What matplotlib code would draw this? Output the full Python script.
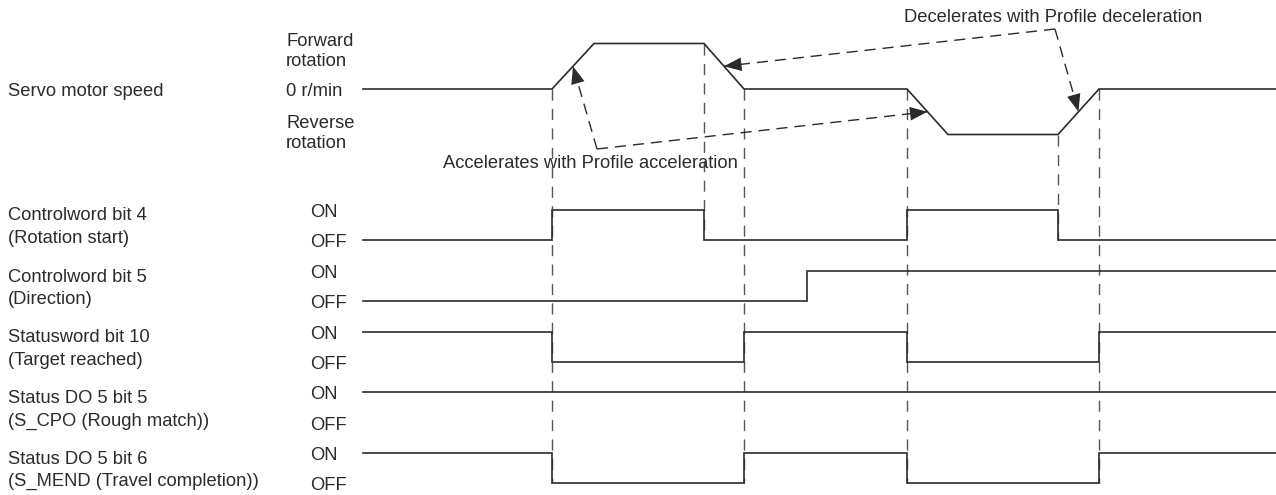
import matplotlib
matplotlib.use("Agg")
import matplotlib.pyplot as plt
from matplotlib.patches import FancyArrowPatch

plt.rcParams['font.family'] = ['Liberation Sans', 'DejaVu Sans']
plt.rcParams['lines.scale_dashes'] = False

# ---------------- data ----------------
# time axis (arbitrary units, drawn left to right)
t_start, t_end = 363, 1276
# servo motor speed profile breakpoints (time, normalized speed)
speed_t = [552, 594, 704, 744, 907, 948, 1058, 1099]
speed_v = [0, 1, 1, 0, 0, -1, -1, 0]

# digital signals: (initial state, toggle times)
signal_names = ["Controlword bit 4", "Controlword bit 5", "Statusword bit 10",
                "Status DO 5 bit 5", "Status DO 5 bit 6"]
signal_sub = ["(Rotation start)", "(Direction)", "(Target reached)",
              "(S_CPO (Rough match))", "(S_MEND (Travel completion))"]
signal_init = [0, 0, 1, 1, 1]
signal_toggles = [[552, 704, 907, 1058],
                  [807],
                  [552, 744, 907, 1099],
                  [],
                  [552, 744, 907, 1099]]

# dashed guide lines at these times
guide_t = [552, 704, 744, 907, 1058, 1099]

speed_label = "Servo motor speed"
speed_levels = ["Forward", "rotation", "0 r/min", "Reverse", "rotation"]
acc_text = "Accelerates with Profile acceleration"
dec_text = "Decelerates with Profile deceleration"

# ---------------- layout ----------------
W, H = 1276, 495
fig = plt.figure(figsize=(W / 100, H / 100), dpi=100)
ax = fig.add_axes([0, 0, 1, 1])
ax.set_xlim(0, W)
ax.set_ylim(H, 0)
ax.axis('off')

LC = '#2b2b2b'
TC = '#2b2b2b'
GC = '#555555'
FS = 13.2
LW = 1.2

speed_zero = 89
speed_amp = 45.5
row_on = [210, 271, 332, 392, 453]
row_off = [240, 301, 362, 423, 483]


def speed_y(v):
    return speed_zero - v * speed_amp


# speed profile
xs = [t_start] + speed_t + [t_end]
ys = [speed_y(0)] + [speed_y(v) for v in speed_v] + [speed_y(0)]
ax.plot(xs, ys, color=LC, lw=LW, solid_joinstyle='miter', zorder=3)

# signals
for i in range(len(signal_names)):
    state = signal_init[i]
    lvl = lambda s: row_on[i] if s else row_off[i]
    px = [t_start]
    py = [lvl(state)]
    for t in signal_toggles[i]:
        px += [t, t]
        py += [lvl(state), lvl(1 - state)]
        state = 1 - state
    px.append(t_end)
    py.append(lvl(state))
    ax.plot(px, py, color=LC, lw=LW, solid_joinstyle='miter', zorder=3)

# dashed guide lines
sv = dict(zip(speed_t, speed_v))
for t in guide_t:
    y0 = speed_y(sv[t])
    # lines at rotation-start fall times stop at Controlword bit 4
    if t in signal_toggles[0] and t not in signal_toggles[2]:
        y1 = row_off[0]
    else:
        y1 = row_off[-1]
    ax.plot([t, t], [y0, y1], color=GC, lw=1.0, dashes=(8, 6), zorder=2)


# annotation arrows (dashed, filled heads) pointing at ramp midpoints
def ramp_mid(k):
    x = (speed_t[k] + speed_t[k + 1]) / 2
    y = (speed_y(speed_v[k]) + speed_y(speed_v[k + 1])) / 2
    return x, y


def dashed_arrow(p0, p1):
    ax.plot([p0[0], p1[0]], [p0[1], p1[1]], color=LC, lw=1.0, dashes=(8, 5), zorder=4)
    arr = FancyArrowPatch(p0, p1, arrowstyle='-|>,head_length=0.9,head_width=0.35',
                          mutation_scale=14, color=LC, lw=0, zorder=5,
                          shrinkA=0, shrinkB=0)
    ax.add_patch(arr)


acc_corner = (597, 149)
dec_corner = (1055, 29)
for k in (0, 4):
    dashed_arrow(acc_corner, ramp_mid(k))
for k in (2, 6):
    dashed_arrow(dec_corner, ramp_mid(k))

ax.text(443, 168.5, acc_text, fontsize=FS, color=TC, va='baseline', ha='left')
ax.text(904, 22, dec_text, fontsize=FS, color=TC, va='baseline', ha='left')

# labels
ax.text(8, 95.5, speed_label, fontsize=FS, color=TC, va='baseline')
for lab, y in zip(speed_levels, [45.5, 66.5, 96, 127.5, 148]):
    ax.text(286, y, lab, fontsize=FS, color=TC, va='baseline')

for i in range(len(signal_names)):
    mid = (row_on[i] + row_off[i]) / 2
    ax.text(8, mid - 4.5, signal_names[i], fontsize=FS, color=TC, va='baseline')
    ax.text(8, mid + 18, signal_sub[i], fontsize=FS, color=TC, va='baseline')
    ax.text(310, row_on[i] + 7, "ON", fontsize=FS, color=TC, va='baseline')
    ax.text(310, row_off[i] + 7, "OFF", fontsize=FS, color=TC, va='baseline')

fig.savefig("out.png", dpi=100)
